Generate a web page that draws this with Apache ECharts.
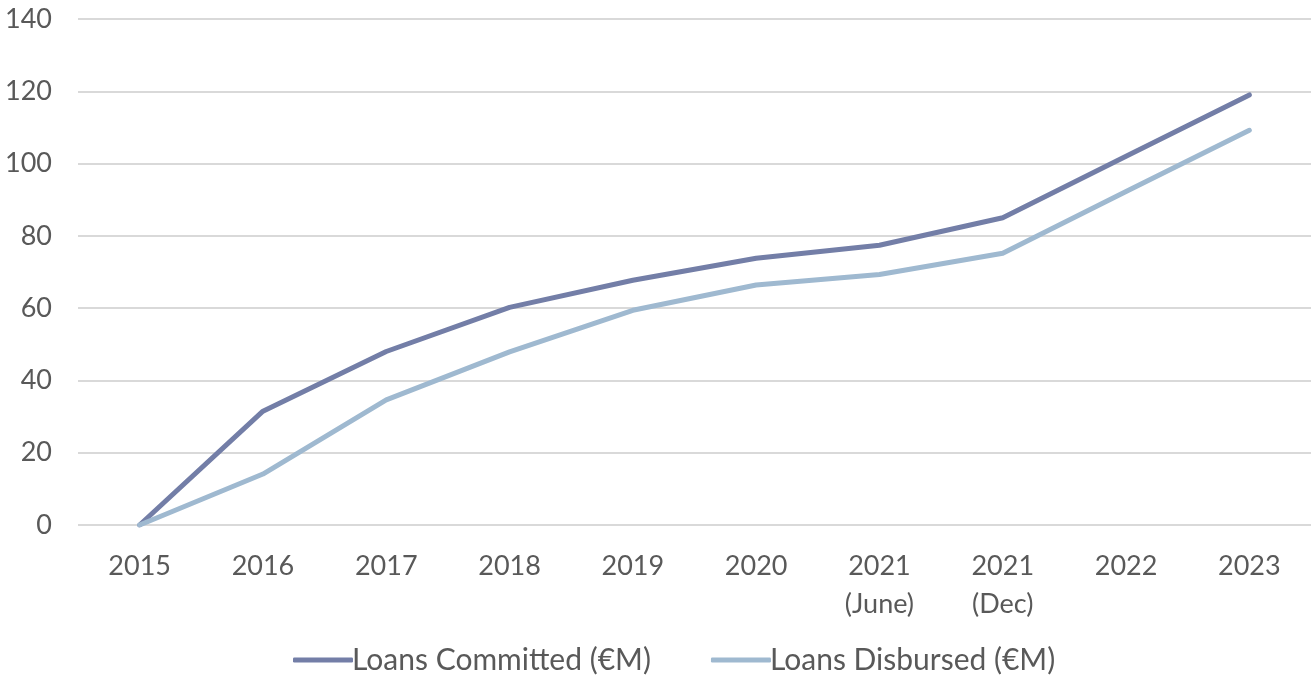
<!DOCTYPE html>
<html>
<head>
<meta charset="utf-8">
<script src="https://cdn.jsdelivr.net/npm/echarts@6/dist/echarts.min.js"></script>
<style>
  html, body { margin: 0; padding: 0; background: #fff; }
  #chart { width: 1313px; height: 681px; }
</style>
</head>
<body>
<div id="chart"></div>
<script>
// 数据
const categories = ['2015', '2016', '2017', '2018', '2019', '2020', '2021\n(June)', '2021\n(Dec)', '2022', '2023'];
const committed = [0, 31.5, 48, 60.2, 67.7, 73.8, 77.4, 85, 102, 119];
const disbursed = [0, 14.1, 34.6, 47.9, 59.4, 66.4, 69.3, 75.2, 92.3, 109.2];
const yTicks = { min: 0, max: 140, interval: 20 };

const fontFamily = '"Lato", "Open Sans", sans-serif';
const textColor = '#595959';

const chart = echarts.init(document.getElementById('chart'));
chart.setOption({
    animation: false,
    grid: { left: 78, right: 2, top: 19, bottom: 156, containLabel: false },
    legend: {
        bottom: 1,
        left: 288,
        itemWidth: 60,
        itemHeight: 5,
        itemGap: 60,
        icon: 'roundRect',
        textStyle: { fontFamily, fontSize: 30, color: textColor, padding: [0, 0, 0, -6] },
        data: ['Loans Committed (€M)', 'Loans Disbursed (€M)']
    },
    xAxis: {
        type: 'category',
        data: categories,
        boundaryGap: true,
        axisLine: { show: false },
        axisTick: { show: false },
        axisLabel: { fontFamily, fontSize: 27, color: textColor, margin: 22, lineHeight: 38, interval: 0 }
    },
    yAxis: {
        type: 'value',
        min: yTicks.min,
        max: yTicks.max,
        interval: yTicks.interval,
        axisLabel: { fontFamily, fontSize: 27, color: textColor, margin: 26 },
        splitLine: { lineStyle: { color: '#d9d9d9', width: 2 } },
        axisLine: { show: false },
        axisTick: { show: false }
    },
    series: [
        {
            name: 'Loans Committed (€M)',
            type: 'line',
            data: committed,
            showSymbol: false,
            color: '#737ea7',
            lineStyle: { width: 5, cap: 'round', join: 'round' }
        },
        {
            name: 'Loans Disbursed (€M)',
            type: 'line',
            data: disbursed,
            showSymbol: false,
            color: '#9fb9d0',
            lineStyle: { width: 5, cap: 'round', join: 'round' }
        }
    ]
});
</script>
</body>
</html>
